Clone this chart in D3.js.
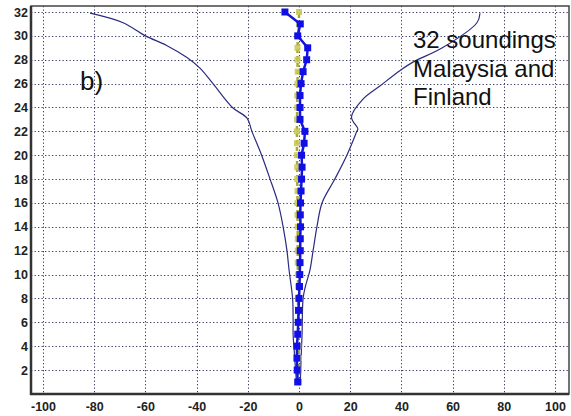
<!DOCTYPE html>
<html><head><meta charset="utf-8">
<script src="https://cdn.jsdelivr.net/npm/d3@7"></script>
<style>body{margin:0;background:#fff}svg{display:block}</style>
</head><body>
<svg id="c" width="571" height="416"></svg>
<script>
const xTicks = [-100,-80,-60,-40,-20,0,20,40,60,80,100];
const yTicks = [2,4,6,8,10,12,14,16,18,20,22,24,26,28,30,32];
const heights = [1,2,3,4,5,6,7,8,9,10,11,12,13,14,15,16,17,18,19,20,21,22,23,24,25,26,27,28,29,30,31,32];
const meanX = [-0.5,-0.7,-0.8,-0.8,-0.5,-0.3,-0.2,0,0.2,0.3,0.4,0.5,0.5,0.6,0.5,0.6,0.8,1,1.2,1,2,2.3,0.4,0.4,0.4,0.8,1.6,3,3.4,-0.5,0.5,-5.5];
const medianX = [0,0,0,-0.2,-0.3,-0.3,-0.3,-0.4,-0.4,-0.4,-0.5,-0.5,-0.5,-0.5,-0.6,-0.6,-0.6,-0.7,-0.7,-0.8,-0.8,-0.8,-0.8,-0.7,-0.7,-0.6,-0.5,-0.6,-0.6,-0.4,0,0];
const leftEnvX = [-81.6,-68.7,-60,-51.7,-43.9,-38.7,-33.6,-26,-20.3,-18.4,-14.6,-11.3,-8.2,-6.2,-4.7,-3.9,-2.5,-2.3,-2.3,-2,-1];
const leftEnvY = [31.9,31.1,30,29.2,28.2,27.3,26,24,23.1,22,20,18,16,14,12,10.4,8,6.2,5,4,1];
const rightEnvX = [70.7,69.5,56,44.5,39.5,31.6,25,20.5,23,22.6,18.7,14,9,7,5.5,4.3,2.5,1.6,1.2,1,0.5];
const rightEnvY = [31.9,31.1,29,27.8,27.1,25.8,24.7,23.2,22.2,22,20,18,16,14,12,10.4,9,8,5,4,1];
const labelB = "b)";
const noteLines = ["32 soundings","Malaysia and","Finland"];

const svg = d3.select("#c");
const L=31,R=569,T=6,B=394;
const x = d3.scaleLinear().domain([-100,100]).range([43,555]);
const y = d3.scaleLinear().domain([0,32]).range([393.9,12]);
const px = v => Math.round(v)+0.5;

const grid = svg.append("g").attr("stroke","#3c3c66").attr("stroke-width",1).attr("stroke-dasharray","1.3,2.2");
grid.selectAll(".v").data(xTicks).join("line").attr("class","v")
  .attr("x1",d=>px(x(d))).attr("x2",d=>px(x(d))).attr("y1",T).attr("y2",B);
grid.selectAll(".h").data(yTicks).join("line").attr("class","h")
  .attr("y1",d=>px(y(d))).attr("y2",d=>px(y(d))).attr("x1",L).attr("x2",R);

// envelope curves
const envLine = d3.line().x(d=>x(d[0])).y(d=>y(d[1])).curve(d3.curveCatmullRom.alpha(0.5));
const plain = d3.line().x(d=>x(d[0])).y(d=>y(d[1]));
svg.append("path").datum(leftEnvX.map((v,i)=>[v,leftEnvY[i]]))
  .attr("d",envLine).attr("fill","none").attr("stroke","#2b2b80").attr("stroke-width",1.2);
svg.append("path").datum(rightEnvX.map((v,i)=>[v,rightEnvY[i]]))
  .attr("d",envLine).attr("fill","none").attr("stroke","#2b2b80").attr("stroke-width",1.2);

// median series (olive dashed)
const med = medianX.map((v,i)=>[v,heights[i]]);
svg.append("path").datum(med).attr("d",plain).attr("fill","none")
  .attr("stroke","#a8a838").attr("stroke-width",2.5).attr("stroke-dasharray","4,3");
svg.append("g").selectAll("rect").data(med).join("rect")
  .attr("x",d=>x(d[0])-3).attr("y",d=>y(d[1])-3).attr("width",6).attr("height",6)
  .attr("fill","#c8c850").attr("opacity",0.85);

// mean series (blue)
const mean = meanX.map((v,i)=>[v,heights[i]]);
svg.append("path").datum(mean).attr("d",plain).attr("fill","none")
  .attr("stroke","#1515d8").attr("stroke-width",2.5);
svg.append("g").selectAll("rect").data(mean).join("rect")
  .attr("x",d=>x(d[0])-3.5).attr("y",d=>y(d[1])-3.5).attr("width",7).attr("height",7)
  .attr("fill","#1010e6");

// frame
svg.append("rect").attr("x",L).attr("y",T).attr("width",R-L).attr("height",B-T)
  .attr("fill","none").attr("stroke","#444").attr("stroke-width",1.5);
svg.append("line").attr("x1",L).attr("x2",L).attr("y1",T).attr("y2",B+1).attr("stroke","#333").attr("stroke-width",2.5);
svg.append("line").attr("x1",L-1).attr("x2",R).attr("y1",B).attr("y2",B).attr("stroke","#333").attr("stroke-width",2.5);

// axes labels
const fontF = "'Liberation Sans', Arial, sans-serif";
const xAxis = d3.axisBottom(x).tickValues(xTicks).tickSize(0).tickPadding(0).tickFormat(d3.format("d"));
const gx = svg.append("g").attr("transform",`translate(0,${B+8})`).call(xAxis);
gx.select(".domain").remove();
gx.selectAll("text").attr("font-family",fontF).attr("font-size",12.5).attr("font-weight","bold")
  .attr("fill","#222").attr("dy","0.71em").text(d=>String(d));
const yAxis = d3.axisLeft(y).tickValues(yTicks).tickSize(0).tickPadding(0);
const gy = svg.append("g").attr("transform",`translate(${L-3},0)`).call(yAxis);
gy.select(".domain").remove();
gy.selectAll("text").attr("font-family",fontF).attr("font-size",12.5).attr("font-weight","bold").attr("fill","#222");

// annotations
svg.append("text").attr("x",80).attr("y",90).attr("font-family",fontF).attr("font-size",26)
  .attr("fill","#111").text(labelB);
svg.append("g").selectAll("text").data(noteLines).join("text")
  .attr("x",413).attr("y",(d,i)=>48+i*28.5).attr("font-family",fontF).attr("font-size",24)
  .attr("fill","#111").text(d=>d);
</script>
</body></html>
